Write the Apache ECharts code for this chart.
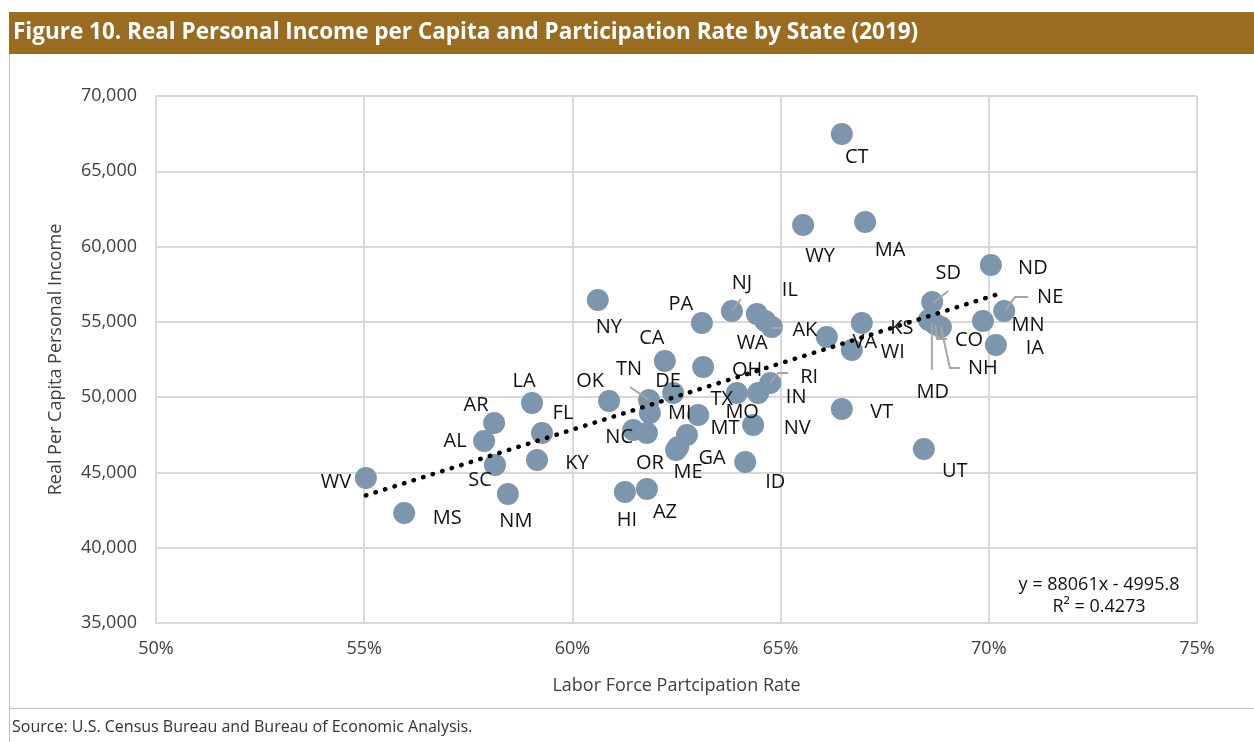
<!DOCTYPE html>
<html>
<head>
<meta charset="utf-8">
<script src="https://cdn.jsdelivr.net/npm/echarts@6/dist/echarts.min.js"></script>
<style>
  html, body { margin: 0; padding: 0; background: #fff; }
  #chart { width: 1254px; height: 742px; }
</style>
</head>
<body>
<div id="chart"></div>
<script>
// state codes, labor force participation (%), real per capita personal income ($)
const states = ['WV','MS','AL','AR','SC','NM','LA','FL','KY','NY','OK','CA','TN','DE','MI','NC','OR','MO','MT','GA','ME','OH','TX','RI','IN','NV','ID','HI','AZ','PA','NJ','IL','WA','AK','VA','KS','WI','VT','UT','CT','WY','MA','SD','MD','CO','NH','MN','NE','ND','IA'];
const participation = [55.04,55.96,57.88,58.12,58.14,58.45,59.03,59.27,59.15,60.61,60.88,62.22,61.84,62.42,61.86,61.46,61.79,63.02,62.75,62.54,62.49,63.14,63.95,64.75,64.46,64.34,64.15,61.26,61.79,63.11,63.83,64.43,64.63,64.79,66.11,66.95,66.71,66.47,68.44,66.47,65.54,67.03,68.64,68.56,68.71,68.85,69.86,70.37,70.05,70.17];
const income = [44630,42310,47090,48280,45500,43570,49610,47620,45830,56450,49750,52400,49810,50280,48950,47820,47620,48820,47490,46690,46490,52000,50280,50940,50280,48150,45690,43700,43900,54930,55720,55520,55060,54660,54000,54930,53130,49210,46560,67480,61430,61630,56320,55120,54860,54660,55060,55720,58780,53460];

// trendline from the chart: y = 88061x - 4995.8, R² = 0.4273
const trendSlope = 88061;
const trendIntercept = -4995.8;
const trendText = ['y = 88061x - 4995.8', 'R² = 0.4273'];

const title = 'Figure 10. Real Personal Income per Capita and Participation Rate by State (2019)';
const source = 'Source: U.S. Census Bureau and Bureau of Economic Analysis.';

// label placement (pixels from the point), like the hand-moved Excel labels
const labelOffsets = {
  WV:[-30,4], MS:[43,5], AL:[-29,0], AR:[-18,-18], SC:[-15,15], NM:[8,27], LA:[-8,-22], FL:[21,-20],
  KY:[40,3], NY:[11,27], OK:[-19,-20], CA:[-13,-23], TN:[-20,-31], DE:[-5,-12], MI:[30,0], NC:[-14,7],
  OR:[3,30], MO:[44,-3], MT:[38,-7], GA:[34,11], ME:[12,22], OH:[44,3], TX:[-15,6], RI:[39,-6],
  IN:[38,4], NV:[44,3], ID:[30,20], HI:[2,28], AZ:[18,23], PA:[-21,-19], NJ:[10,-28], IL:[33,-24],
  WA:[-13,22], AK:[33,3], VA:[38,5], KS:[40,5], WI:[41,2], VT:[40,3], UT:[31,22], CT:[15,23],
  WY:[17,31], MA:[25,28], SD:[16,-29], MD:[4,72], CO:[34,16], NH:[42,41], MN:[45,4], NE:[46,-14],
  ND:[42,3], IA:[39,3]
};
// leader lines, pixel paths from the point
const leaders = {
  TN: [[-19,-13],[0,0]],
  NJ: [[0,0],[9,-12]],
  RI: [[0,0],[8,-10],[18,-10]],
  AK: [[0,1],[11,1]],
  SD: [[1,1],[16,-11]],
  MD: [[3,3],[3,50]],
  CO: [[0,1],[2,15],[12,15]],
  NH: [[0,0],[9,41],[19,41]],
  NE: [[1,-1],[11,-14],[24,-14]]
};

const points = states.map((s, i) => ({
  value: [participation[i], income[i]],
  name: s,
  label: { offset: labelOffsets[s] || [30, 0] }
}));

const xMinData = Math.min(...participation);
const xMaxData = Math.max(...participation);
const trendData = [xMinData, xMaxData].map(x => [x, trendSlope * x / 100 + trendIntercept]);

const leaderData = states.map((s, i) => leaders[s] ? [participation[i], income[i], i] : null).filter(d => d);

const chart = echarts.init(document.getElementById('chart'));
const textFont = 'Open Sans';

chart.setOption({
  animation: false,
  grid: { left: 156, right: 57, top: 96, bottom: 119 },
  xAxis: {
    type: 'value',
    min: 50, max: 75, interval: 5,
    name: 'Labor Force Partcipation Rate',
    nameLocation: 'middle', nameGap: 54,
    nameTextStyle: { fontFamily: textFont, fontSize: 18, color: '#404040' },
    axisLine: { show: true, lineStyle: { color: '#d9d9d9', width: 2 } },
    axisTick: { show: false },
    axisLabel: { formatter: v => v + '%', fontFamily: textFont, fontSize: 18, color: '#404040', margin: 17 },
    splitLine: { show: true, lineStyle: { color: '#d9d9d9', width: 2 } }
  },
  yAxis: {
    type: 'value',
    min: 35000, max: 70000, interval: 5000,
    name: 'Real Per Capita Personal Income',
    nameLocation: 'middle', nameGap: 91,
    nameTextStyle: { fontFamily: textFont, fontSize: 18, color: '#404040' },
    axisLine: { show: true, lineStyle: { color: '#d9d9d9', width: 2 } },
    axisTick: { show: false },
    axisLabel: { formatter: v => v.toLocaleString('en-US'), fontFamily: textFont, fontSize: 18, color: '#404040', margin: 19 },
    splitLine: { show: true, lineStyle: { color: '#d9d9d9', width: 2 } }
  },
  series: [
    {
      type: 'scatter',
      data: points,
      symbolSize: 22,
      itemStyle: { color: '#7c96ad', opacity: 1 },
      label: {
        show: true,
        position: 'inside',
        formatter: '{b}',
        fontFamily: textFont,
        fontSize: 20,
        color: '#111'
      },
      z: 2
    },
    {
      type: 'line',
      data: trendData,
      symbol: 'none',
      lineStyle: { color: '#000', width: 4.5, type: [0.5, 9.5], cap: 'round' },
      silent: true,
      z: 3
    },
    {
      type: 'custom',
      data: leaderData,
      z: 4,
      silent: true,
      renderItem: (params, api) => {
        const c = api.coord([api.value(0), api.value(1)]);
        const path = leaders[states[api.value(2)]];
        return {
          type: 'polyline',
          shape: { points: path.map(p => [c[0] + p[0], c[1] + p[1]]) },
          style: { stroke: '#a6a6a6', lineWidth: 2, fill: null }
        };
      }
    }
  ],
  graphic: [
    { type: 'rect', shape: { x: 9, y: 12, width: 1245, height: 42 }, style: { fill: '#9a6c21' } },
    { type: 'text', x: 13, y: 33, style: { text: title, fill: '#fff', font: 'bold 22.5px "Open Sans"', textVerticalAlign: 'middle' } },
    { type: 'line', shape: { x1: 9.5, y1: 54, x2: 9.5, y2: 742 }, style: { stroke: '#bfbfbf', lineWidth: 1 } },
    { type: 'line', shape: { x1: 9, y1: 708.5, x2: 1254, y2: 708.5 }, style: { stroke: '#bfbfbf', lineWidth: 1 } },
    { type: 'text', x: 12, y: 727, style: { text: source, fill: '#333', font: '16px "Open Sans"', textVerticalAlign: 'middle' } },
    { type: 'text', x: 1099, y: 585, style: { text: trendText[0], fill: '#111', font: '18px "Open Sans"', textAlign: 'center', textVerticalAlign: 'middle' } },
    { type: 'text', x: 1099, y: 607, style: { text: trendText[1], fill: '#111', font: '18px "Open Sans"', textAlign: 'center', textVerticalAlign: 'middle' } }
  ]
});
</script>
</body>
</html>
